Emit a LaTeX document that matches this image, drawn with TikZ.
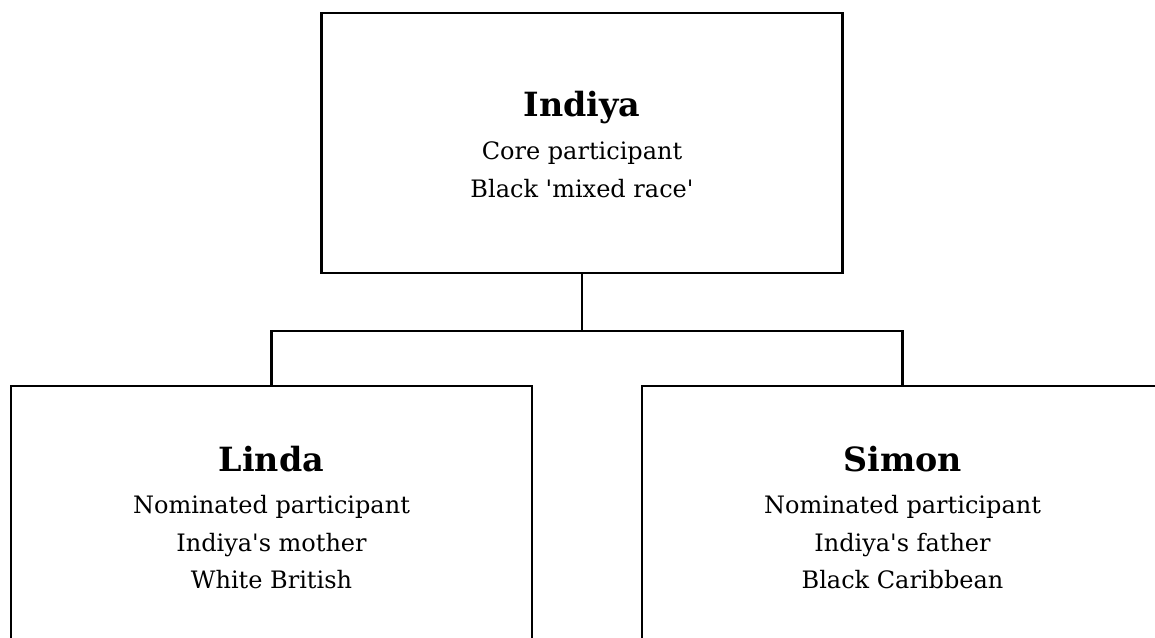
\documentclass[tikz,border=0pt]{standalone}
\usepackage{fontspec}
\setmainfont{DejaVu Serif}[Ligatures=TeXOff]
\tikzset{
  box/.style={draw, line width=1.9pt, rectangle, minimum width=390.75pt, minimum height=195pt, inner sep=0pt},
  wire/.style={line width=1.9pt, line join=miter},
  title/.style={anchor=base, inner sep=0pt, font=\fontsize{25pt}{30pt}\selectfont\bfseries},
  info/.style={anchor=base, inner sep=0pt, font=\fontsize{18pt}{22pt}\selectfont},
}
\begin{document}
\begin{tikzpicture}[x=0.75pt, y=-0.75pt]
  \useasboundingbox (0,0) rectangle (1155,638);
  \clip (0,0) rectangle (1155,638);

  % person boxes
  \node[box] (indiya) at (582,143) {};
  \node[box] (linda) at (271.5,516) {};
  \node[box] (simon) at (902.5,516) {};

  % family tree connectors
  \coordinate (join) at (582,331);
  \draw[wire] (indiya.south) -- (join);
  \draw[wire] (linda.north) |- (join) -| (simon.north);

  % Indiya
  \node[title] (tI) at (582,117) {Indiya};
  \node[info] (i1) at (582,160) {Core participant};
  \node[info] (i2) at (582,197) {Black 'mixed race'};

  % Linda
  \node[title] (tL) at (271.5,471) {Linda};
  \node[info] (l1) at (271.5,513) {Nominated participant};
  \node[info] (l2) at (271.5,551) {Indiya's mother};
  \node[info] (l3) at (271.5,588) {White British};

  % Simon
  \node[title] (tS) at (902.5,471) {Simon};
  \node[info] (s1) at (902.5,513) {Nominated participant};
  \node[info] (s2) at (902.5,551) {Indiya's father};
  \node[info] (s3) at (902.5,588) {Black Caribbean};
\end{tikzpicture}
\end{document}
